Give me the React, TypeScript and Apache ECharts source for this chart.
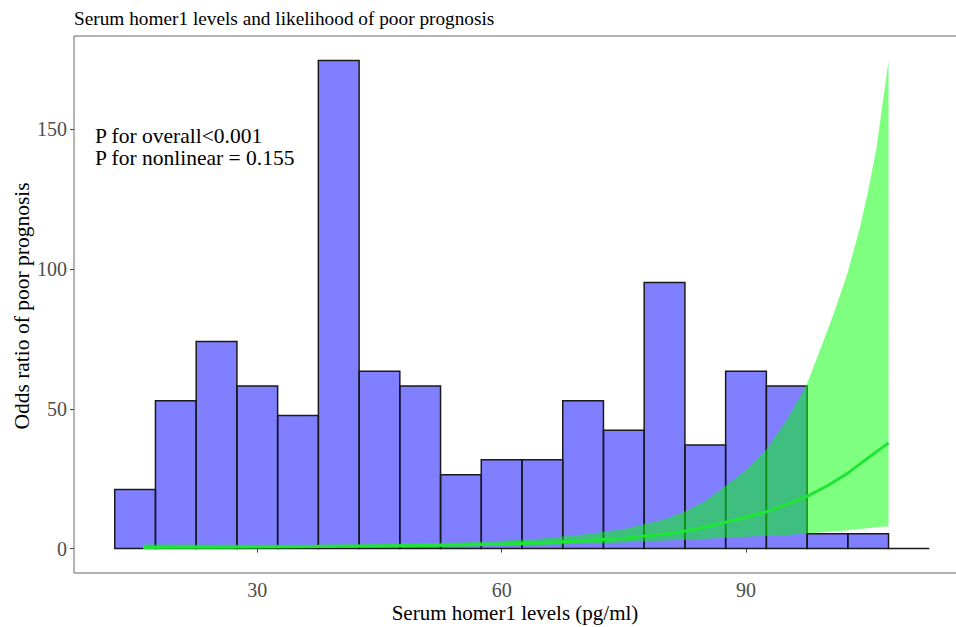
import React, { useEffect, useRef } from "react";
import * as echarts from "echarts";

const FONT = '"Liberation Serif", "Times New Roman", serif';

// Histogram bins (centre of each 5-unit bin) and counts
const binCenters = [15, 20, 25, 30, 35, 40, 45, 50, 55, 60, 65, 70, 75, 80, 85, 90, 95, 100, 105, 110];
const binCounts = [4, 10, 14, 11, 9, 33, 12, 11, 5, 6, 6, 10, 8, 18, 7, 12, 11, 1, 1, 0];
const binWidth = 5;
const countScale = 174.6 / 33; // histogram rescaled to the OR axis

// Restricted cubic spline: odds ratio and 95% CI
const splineX = [16, 20, 25, 30, 35, 40, 45, 50, 55, 60, 65, 70, 75, 80, 82.5, 85, 87.5, 90, 92.5, 95, 97.5, 100, 101, 102.5, 104, 105, 106, 107.5];
const orEst = [0.4, 0.45, 0.5, 0.6, 0.7, 0.8, 0.9, 1.1, 1.3, 1.6, 2.1, 2.8, 3.7, 5.2, 6.3, 7.7, 9.4, 11.2, 13.2, 15.8, 18.7, 22.5, 24.3, 27.0, 30.3, 32.5, 34.6, 37.8];
const orLow = [0.05, 0.1, 0.15, 0.2, 0.3, 0.4, 0.5, 0.6, 0.8, 1.0, 1.3, 1.7, 2.2, 2.9, 3.2, 3.5, 3.9, 4.2, 4.5, 4.9, 5.4, 6.0, 6.2, 6.6, 7.0, 7.3, 7.6, 8.0];
const orHigh = [1.5, 1.5, 1.4, 1.4, 1.4, 1.5, 1.6, 1.9, 2.2, 2.8, 3.6, 5.0, 7.0, 10.5, 13.3, 17.0, 22.5, 28.0, 35.5, 46.0, 59.0, 78.0, 86.0, 99.0, 115.0, 128.0, 143.0, 174.6];

const xTicks = [30, 60, 90];
const yTicks = [0, 50, 100, 150];

const titleText = "Serum homer1 levels and likelihood of poor prognosis";
const xTitle = "Serum homer1 levels (pg/ml)";
const yTitle = "Odds ratio of poor prognosis";
const annot1 = "P for overall<0.001";
const annot2 = "P for nonlinear = 0.155";

export default function App() {
  const ref = useRef<HTMLDivElement>(null);
  useEffect(() => {
    if (!ref.current) return;
    const chart = echarts.init(ref.current, null, { renderer: "svg" });
    const barData = binCenters.map((c, i) => [c - binWidth / 2, c + binWidth / 2, binCounts[i] * countScale]);
    const ribbonData = splineX.map((x, i) => [x, orLow[i], orHigh[i]]);
    const lineData = splineX.map((x, i) => [x, orEst[i]]);

    chart.setOption({
      animation: false,
      grid: {
        left: 74,
        top: 36,
        right: 30,
        bottom: 54,
        show: true,
        borderColor: "#666",
        borderWidth: 1,
        backgroundColor: "transparent",
      },
      xAxis: {
        type: "value",
        min: 7.5,
        max: 117.5,
        axisLine: { show: false },
        splitLine: { show: false },
        axisTick: { show: true, length: 4, customValues: xTicks, lineStyle: { color: "#444" } },
        axisLabel: { customValues: xTicks, color: "#4d4d4d", fontFamily: FONT, fontSize: 20, margin: 7 },
      },
      yAxis: {
        type: "value",
        min: -8.73,
        max: 183.4,
        axisLine: { show: false },
        splitLine: { show: false },
        axisTick: { show: true, length: 4, customValues: yTicks, lineStyle: { color: "#444" } },
        axisLabel: { customValues: yTicks, color: "#4d4d4d", fontFamily: FONT, fontSize: 20, margin: 7 },
      },
      series: [
        {
          type: "custom",
          z: 1,
          data: barData,
          encode: { x: [0, 1], y: 2 },
          renderItem: (params: any, api: any) => {
            const p0 = api.coord([api.value(0), api.value(2)]);
            const p1 = api.coord([api.value(1), 0]);
            return {
              type: "rect",
              shape: { x: p0[0], y: p0[1], width: p1[0] - p0[0], height: p1[1] - p0[1] },
              style: { fill: "rgba(0,0,255,0.5)", stroke: "#1a1a1a", lineWidth: 1.5 },
            };
          },
        },
        {
          type: "custom",
          z: 2,
          data: ribbonData,
          encode: { x: 0, y: [1, 2] },
          renderItem: (params: any, api: any) => {
            if (params.dataIndex !== 0) return null;
            const upper = ribbonData.map((d) => api.coord([d[0], d[2]]));
            const lower = ribbonData.map((d) => api.coord([d[0], d[1]])).reverse();
            return {
              type: "polygon",
              shape: { points: upper.concat(lower) },
              style: { fill: "rgba(0,255,0,0.5)" },
            };
          },
        },
        {
          type: "line",
          z: 3,
          data: lineData,
          showSymbol: false,
          smooth: false,
          lineStyle: { color: "#1fe535", width: 3, join: "round" },
        },
      ],
      graphic: [
        {
          type: "text",
          x: 74,
          y: 18.5,
          style: { text: titleText, font: `19.3px ${FONT}`, fill: "#000", align: "left", verticalAlign: "middle" },
        },
        {
          type: "text",
          x: 95,
          y: 135.5,
          style: { text: annot1, font: `21.5px ${FONT}`, fill: "#000", align: "left", verticalAlign: "middle" },
        },
        {
          type: "text",
          x: 95,
          y: 158,
          style: { text: annot2, font: `21.5px ${FONT}`, fill: "#000", align: "left", verticalAlign: "middle" },
        },
        {
          type: "text",
          x: 515,
          y: 613,
          style: { text: xTitle, font: `21px ${FONT}`, fill: "#000", align: "center", verticalAlign: "middle" },
        },
        {
          type: "text",
          x: 22,
          y: 306,
          rotation: Math.PI / 2,
          style: { text: yTitle, font: `21.5px ${FONT}`, fill: "#000", align: "center", verticalAlign: "middle" },
        },
      ],
    });
    return () => chart.dispose();
  }, []);
  return (
    <div
      ref={ref}
      style={{ position: "fixed", left: 0, top: 0, width: 1000, height: 627, background: "#fff" }}
    />
  );
}
